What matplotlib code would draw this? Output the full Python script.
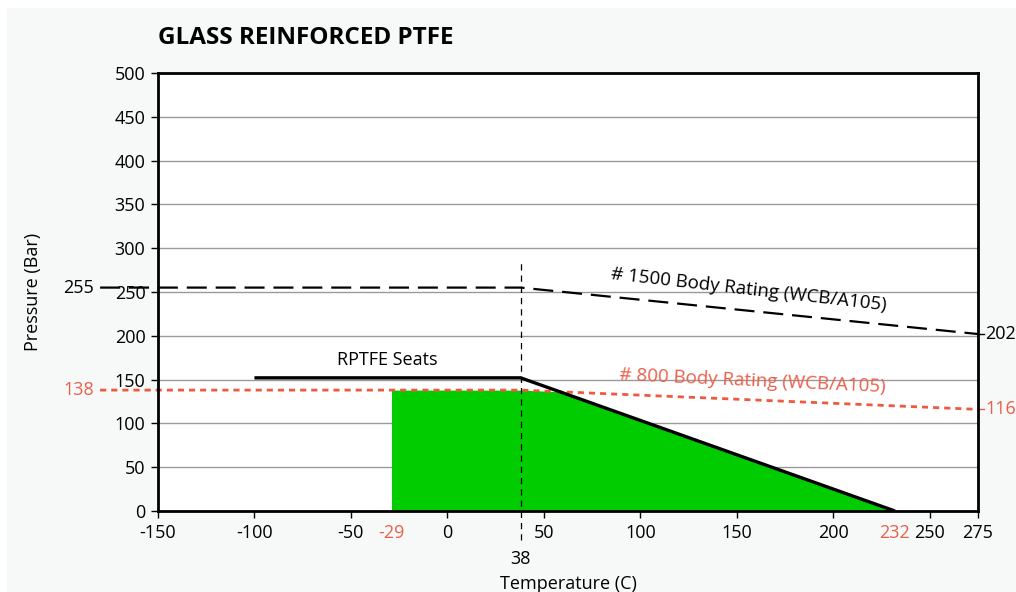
import numpy as np
import matplotlib.pyplot as plt
from matplotlib.patches import Rectangle

# seat rating (RPTFE)
seatTemps = [-100, 38, 232]
seatPress = [152, 152, 0]

# body ratings
bodyTemps = [-180, 38, 275]
body1500 = [255, 255, 202]
body800 = [138, 138, 116]

# green area limits
fillStart = -29
fillEnd = 232

xTicks = [-150, -100, -50, -29, 0, 50, 100, 150, 200, 232, 250, 275]
yTicks = [0, 50, 100, 150, 200, 250, 300, 350, 400, 450, 500]
redXLabels = [-29, 232]

red = "#ee5a40"
labelRed = "#e8604c"

plt.rcParams['font.family'] = ['Open Sans', 'DejaVu Sans']
plt.rcParams['axes.unicode_minus'] = False

fig = plt.figure(figsize=(10.16, 5.92), dpi=100, facecolor="white")
fig.patches.append(Rectangle((0.007, 0), 0.993, 0.986, transform=fig.transFigure,
                             facecolor="#f7f8f8", edgecolor="none", zorder=-10))
ax = fig.add_axes([0.1555, 0.1368, 0.807, 0.740])
ax.set_facecolor("white")

ax.set_xlim(-150, 275)
ax.set_ylim(0, 500)

for y in yTicks[1:-1]:
  ax.axhline(y, color="#9a9a9a", lw=1.0, zorder=1)

# green area = min(seat, #800) between -29 and 232
xs = np.linspace(fillStart, fillEnd, 400)
seatI = np.interp(xs, seatTemps, seatPress)
bodyI = np.interp(xs, bodyTemps, body800)
ax.fill_between(xs, 0, np.minimum(seatI, bodyI), color="#00cc00", lw=0, zorder=2)

ax.plot(bodyTemps, body1500, color="black", lw=1.6, dashes=(9, 4), clip_on=False, zorder=4)
ax.plot(bodyTemps, body800, color=red, lw=2.0, dashes=(2.2, 1.8), clip_on=False, zorder=4)
ax.plot(seatTemps, seatPress, color="black", lw=2.4, solid_capstyle="butt", zorder=5)
ax.plot([38, 38], [-33, 286], color="black", lw=0.9, dashes=(5, 4), clip_on=False, zorder=4)

ax.set_xticks(xTicks)
ax.set_yticks(yTicks)
ax.tick_params(axis="both", labelsize=13, length=5, width=1, direction="out", pad=4)
for tick, v in zip(ax.xaxis.get_major_ticks(), xTicks):
  if v in redXLabels:
    tick.tick1line.set_visible(False)
    tick.label1.set_color(labelRed)
for s in ax.spines.values():
  s.set_linewidth(2)
  s.set_zorder(6)

ax.text(38, -45, "38", fontsize=13, ha="center", va="top")

# outside value labels
ax.text(-183, 255, "255", fontsize=13, ha="right", va="center", clip_on=False)
ax.text(-183, 138, "138", fontsize=13, ha="right", va="center", color=labelRed, clip_on=False)
ax.plot([275, 278], [202, 202], color="black", lw=1, clip_on=False)
ax.plot([275, 278], [116, 116], color=labelRed, lw=1, clip_on=False)
ax.text(279, 202, "202", fontsize=13, ha="left", va="center")
ax.text(279, 116, "116", fontsize=13, ha="left", va="center", color=labelRed)

ax.text(-31, 172, "RPTFE Seats", fontsize=13, ha="center", va="center")
ax.text(156, 252, "# 1500 Body Rating (WCB/A105)", fontsize=13.5, ha="center", va="center",
        rotation=-6.5)
ax.text(158, 148, "# 800 Body Rating (WCB/A105)", fontsize=13.5, ha="center", va="center",
        rotation=-2.6, color=labelRed)

ax.set_xlabel("Temperature (C)", fontsize=13, labelpad=24)
ax.set_ylabel("Pressure (Bar)", fontsize=13, labelpad=52)
fig.text(0.1555, 0.935, "GLASS REINFORCED PTFE", fontsize=17.5, fontweight="bold", ha="left", va="center")

plt.savefig("out.png", dpi=100, facecolor=fig.get_facecolor())
